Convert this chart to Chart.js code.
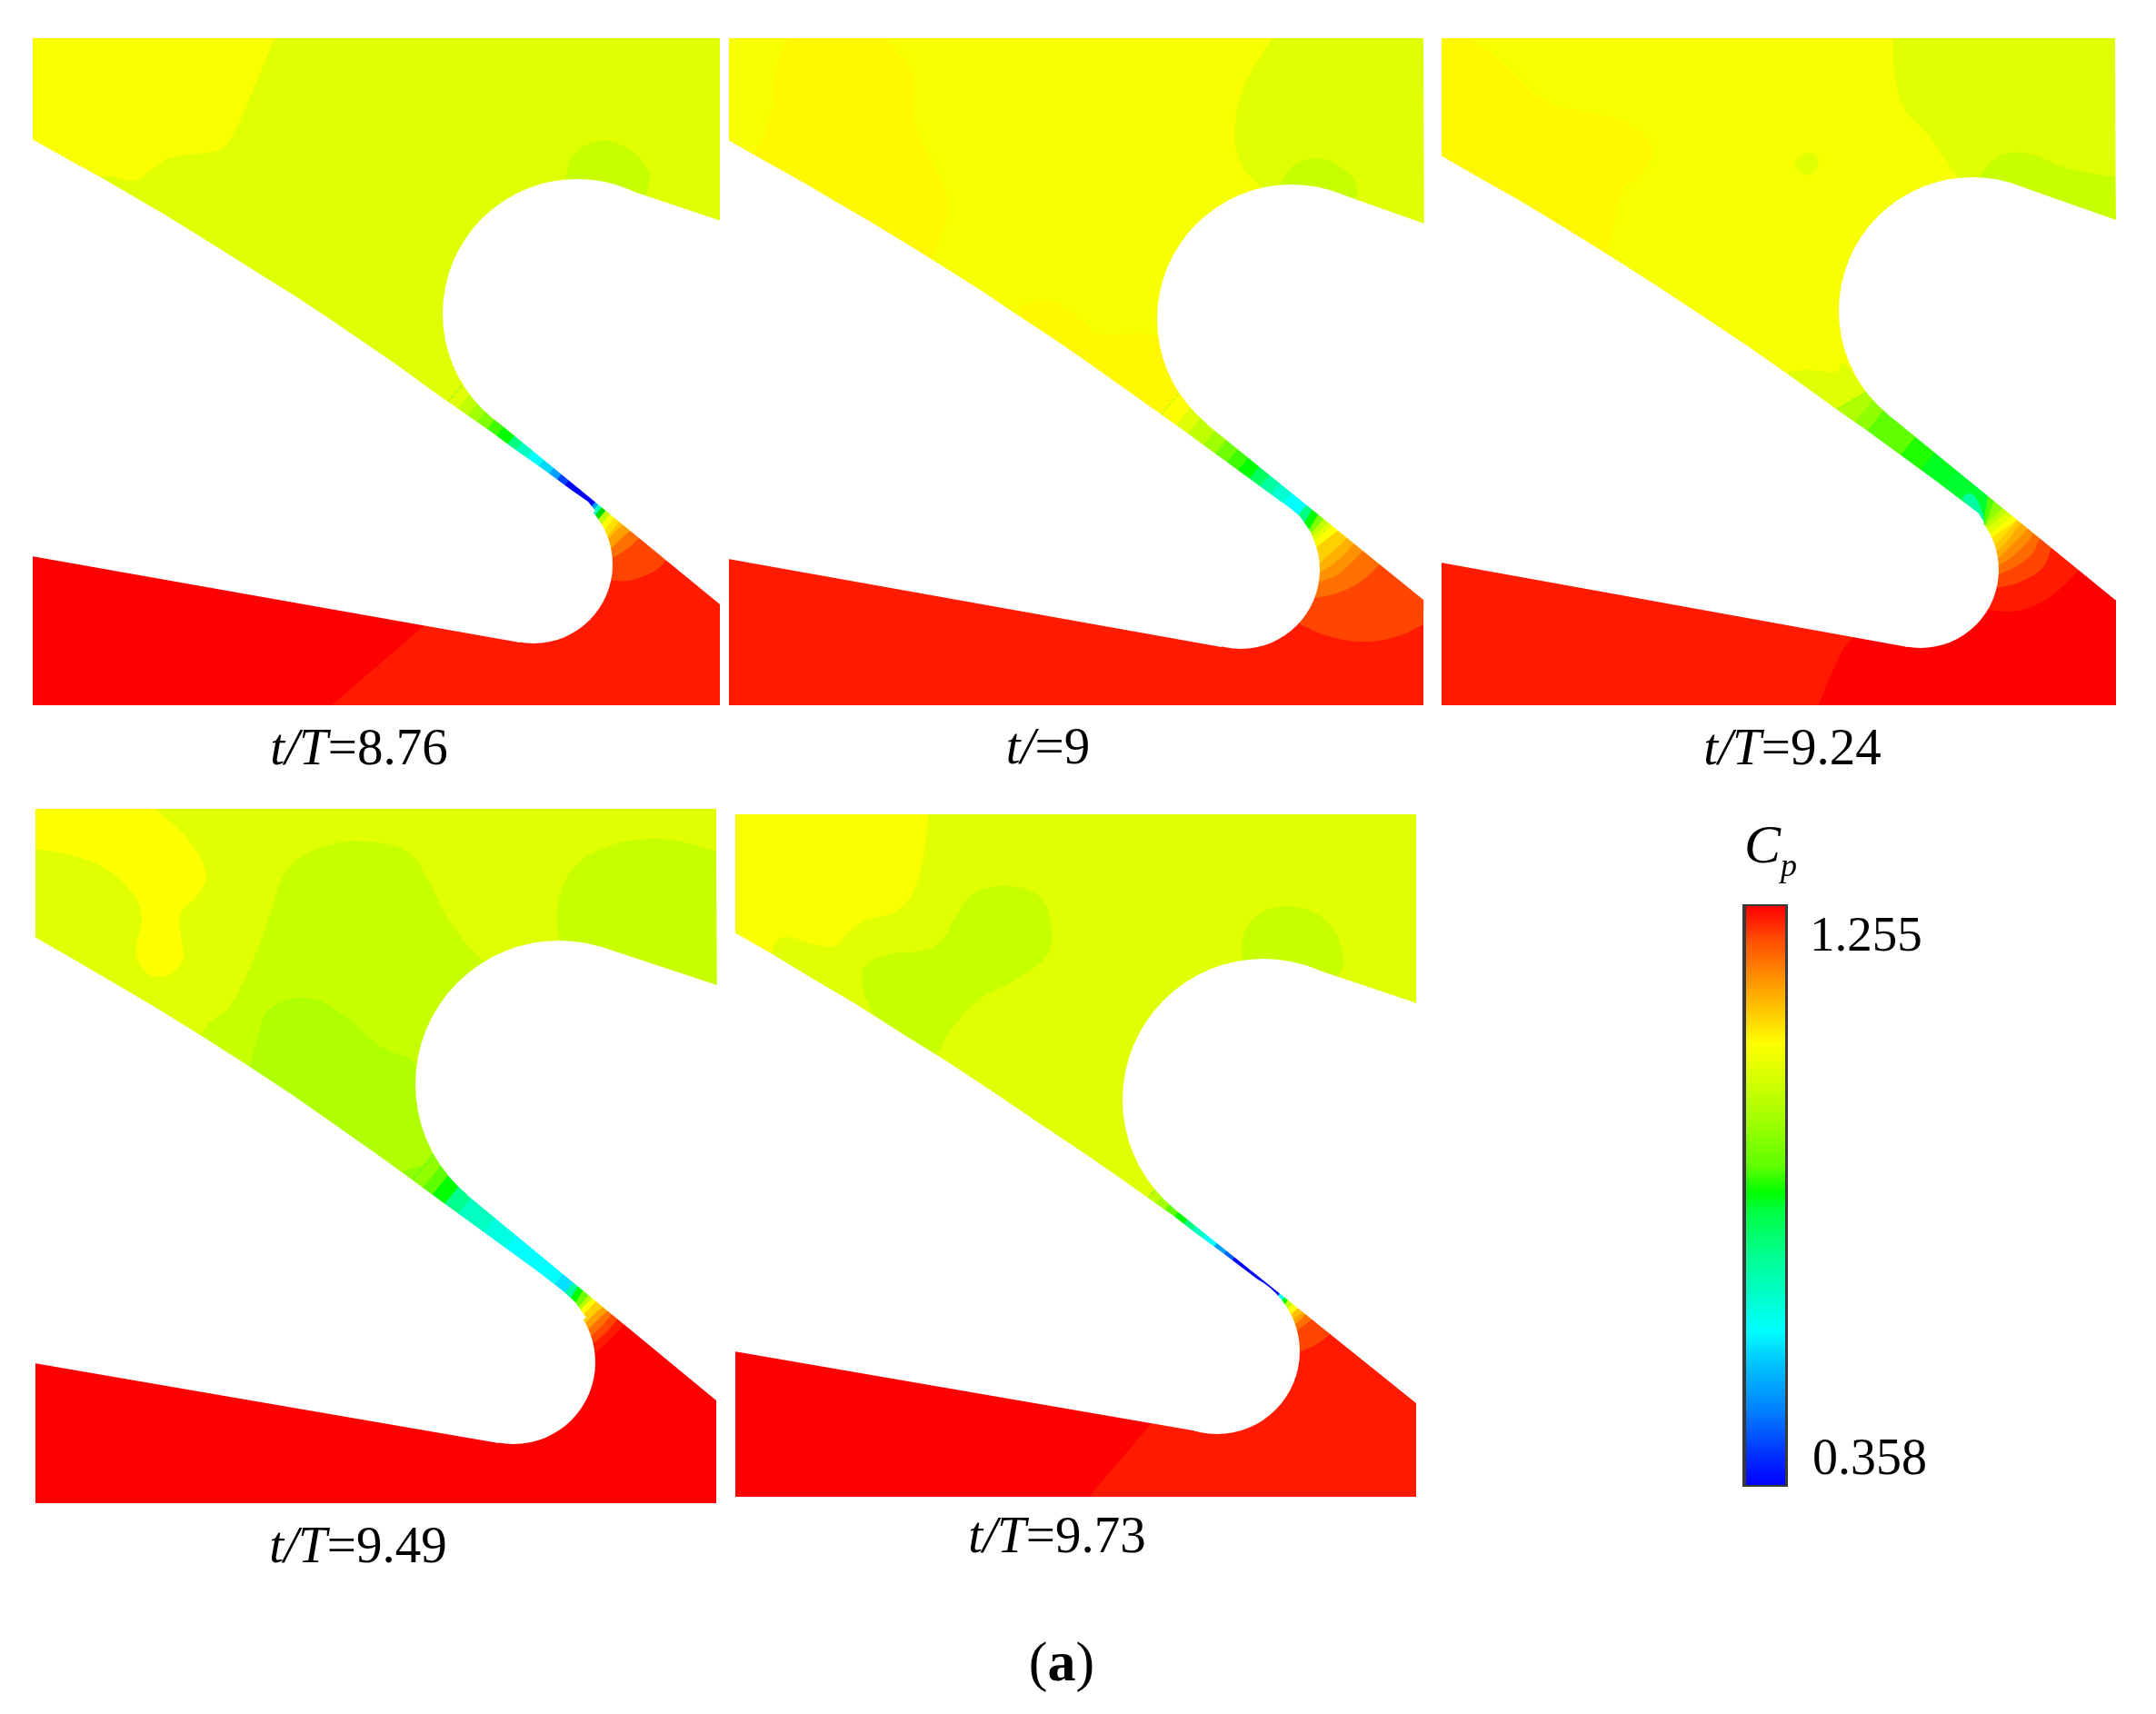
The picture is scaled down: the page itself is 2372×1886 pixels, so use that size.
<!DOCTYPE html>
<html>
<head>
<meta charset="utf-8">
<style>
  html, body { margin: 0; padding: 0; background: #fff; }
  #wrap { position: relative; width: 2372px; height: 1886px; overflow: hidden; }
  canvas { position: absolute; left: 0; top: 0; }
  .t { position: absolute; font-family: "Liberation Serif", serif; line-height: 1; color: #000; white-space: nowrap; }
</style>
<script src="https://cdn.jsdelivr.net/npm/chart.js@4"></script>
</head>
<body>
<div id="wrap">
  <canvas id="cuadro" width="2372" height="1886"></canvas>
</div>
<script>
// texts
const panelLabels = ['t/T=8.76', 't/=9', 't/T=9.24', 't/T=9.49', 't/T=9.73'];
const panelLabelX = [395, 1153, 1972, 394, 1163];
const panelLabelBase = [841, 840, 841, 1719, 1708];
const scaleMax = '1.255';
const scaleMin = '0.358';

// colour bar, fraction from top and colour
const barStops = [0, 0.065, 0.14, 0.238, 0.295, 0.372, 0.449, 0.495, 0.526, 0.603, 0.68, 0.733, 0.795, 0.872, 0.949, 1];
const barColors = ['#ff0000', '#ff5500', '#ffa000', '#ffff00', '#d8ff00', '#a0ff00', '#60ff00', '#00ff00', '#00ff40', '#00ff90', '#00ffd0', '#00ffff', '#00c0ff', '#0080ff', '#0030ff', '#0000ff'];
const barFrame = [[1917, 995], [1967, 995], [1967, 1636], [1917, 1636]];
const barInner = [[1921, 997], [1964, 997], [1964, 1634], [1921, 1634]];

// t/T=8.76
const p1Top = [[36, 42], [792, 42], [792, 450], [600, 512], [36, 300]];
const p1Bottom = [[36, 300], [600, 512], [792, 450], [792, 776], [36, 776]];
const p1TopColor = '#e0ff00', p1BottomColor = '#ff1a00';
const p1Blobs = [
  [[36, 42], [302, 42], [282, 90], [257, 147], [242, 164], [186, 174], [166, 187], [148, 199], [121, 194], [111, 195], [100, 210], [36, 170]],
  [[622, 195], [630, 171], [660, 155], [690, 163], [713, 187], [714, 203], [705, 220], [640, 240]],
  [[466, 689], [466, 689], [365, 776], [36, 776], [36, 600], [466, 660]],
  [[673, 639], [690, 639], [708, 634], [722, 627], [732, 618], [753, 597], [660, 547], [643, 597]],
  [[675, 613], [690, 604], [702, 593], [720, 575], [660, 547], [643, 597]],
  [[673, 603], [683, 593], [692, 585], [710, 570], [660, 547], [643, 597]],
  [[670, 593], [677, 585], [684, 579], [700, 565], [660, 547], [640, 590]]
];
const p1BlobColors = ['#faff00', '#c8ff00', '#ff0000', '#ff4500', '#ff7000', '#ffa000', '#ffc000'];
const p1Cuts = [[674, 583], [670, 577], [666, 572], [662, 567], [658, 563], [655, 559], [652, 556], [623, 532], [615, 525], [607, 518], [595, 510], [583, 500], [572, 490], [562, 484], [550, 475], [540, 467], [530, 458], [520, 451], [510, 442], [500, 434]];
const p1CutColors = ['#ffe000', '#ffff00', '#c0ff00', '#00e000', '#00ffc0', '#00a0ff', '#0000ff', '#0040ff', '#00a0ff', '#00d8ff', '#00ffff', '#00ffc0', '#00ff80', '#00ff00', '#40ff00', '#80ff00', '#a0ff00', '#c0ff00', '#e0ff00'];
const p1BladeA = [[35, 153], [76, 176], [116, 198], [150, 218], [181, 236], [215, 257], [247, 277], [285, 301], [322, 324], [360, 349], [398, 375], [436, 401], [473, 428], [500, 447], [523, 463], [543, 477], [563, 492], [600, 518], [627, 538], [647, 552], [655, 562], [587, 621], [572, 707], [35, 612]];
const p1NoseA = [587, 621], p1NoseARadius = 87;
const p1BladeB = [[683, 206], [793, 243], [793, 665], [792, 665], [541, 459], [635, 345]];
const p1NoseB = [635, 345], p1NoseBRadius = 148;

// t/=9
const p2Top = [[802, 42], [1566, 42], [1566, 450], [1367, 510], [802, 300]];
const p2Bottom = [[802, 300], [1367, 510], [1566, 450], [1566, 776], [802, 776]];
const p2TopColor = '#f8ff00', p2BottomColor = '#ff1a00';
const p2Blobs = [
  [[866, 42], [853, 84], [850, 117], [840, 152], [830, 174], [900, 260], [1020, 310], [1027, 279], [1042, 236], [1037, 203], [1007, 138], [1004, 84], [976, 42]],
  [[1122, 336], [1158, 332], [1193, 355], [1208, 367], [1271, 370], [1290, 400], [1330, 470], [1250, 470], [1117, 360]],
  [[1400, 42], [1369, 95], [1359, 138], [1364, 176], [1387, 206], [1450, 260], [1567, 260], [1566, 42]],
  [[1409, 203], [1420, 184], [1450, 174], [1480, 187], [1493, 206], [1490, 220], [1440, 280]],
  [[1430, 687], [1465, 701], [1505, 706], [1541, 699], [1566, 687], [1567, 600], [1450, 540], [1400, 620]],
  [[1448, 658], [1473, 652], [1497, 640], [1517, 622], [1540, 600], [1450, 540], [1400, 620]],
  [[1453, 640], [1472, 632], [1488, 618], [1498, 608], [1520, 590], [1450, 540], [1400, 620]],
  [[1453, 630], [1470, 618], [1482, 607], [1488, 600], [1510, 580], [1450, 540], [1400, 620]],
  [[1452, 620], [1465, 608], [1477, 597], [1495, 575], [1450, 540], [1400, 620]]
];
const p2BlobColors = ['#fff800', '#fff800', '#e0ff00', '#c8ff00', '#ff4500', '#ff7000', '#ff9000', '#ffb000', '#ffd000'];
const p2Cuts = [[1460, 593, 24, -18], [1456, 587, 22, -20], [1453, 582, 22, -20], [1450, 578, 20, -22], [1446, 573, 15, -25], [1440, 567, 15, -26], [1432, 562], [1417, 547], [1403, 538], [1392, 528], [1380, 520], [1368, 510], [1357, 500], [1343, 492], [1330, 482], [1313, 470], [1300, 460], [1285, 448]];
const p2CutColors = ['#ffff00', '#e0ff00', '#c0ff00', '#80ff00', '#00ff00', '#00ff80', '#00ffff', '#00ffd0', '#00ffa0', '#00ff60', '#00ff00', '#40ff00', '#70ff00', '#a0ff00', '#c0ff00', '#e0ff00', '#ffff00'];
const p2BladeA = [[801, 154], [845, 179], [886, 202], [925, 225], [961, 246], [1002, 271], [1042, 296], [1080, 320], [1117, 345], [1155, 370], [1193, 396], [1231, 423], [1269, 450], [1300, 472], [1330, 494], [1367, 521], [1397, 543], [1420, 560], [1430, 568], [1443, 587], [1365, 627], [1344, 712], [801, 615]];
const p2NoseA = [1365, 627], p2NoseARadius = 87;
const p2BladeB = [[1465, 210], [1567, 246], [1567, 660], [1566, 660], [1328, 467], [1421, 351]];
const p2NoseB = [1421, 351], p2NoseBRadius = 148;

// t/T=9.24
const p3Top = [[1586, 42], [2327, 42], [2327, 450], [2130, 518], [1586, 300]];
const p3Bottom = [[1586, 300], [2130, 518], [2327, 450], [2327, 776], [1586, 776]];
const p3TopColor = '#f8ff00', p3BottomColor = '#ff1a00';
const p3Blobs = [
  [[1586, 42], [1615, 42], [1646, 63], [1676, 90], [1701, 111], [1741, 123], [1792, 136], [1818, 163], [1809, 187], [1782, 214], [1776, 247], [1769, 271], [1770, 300], [1586, 200]],
  [[1973, 182], [1983, 170], [1998, 171], [1999, 185], [1986, 194]],
  [[2083, 42], [2084, 79], [2094, 117], [2124, 152], [2154, 195], [2200, 260], [2328, 260], [2327, 42]],
  [[2177, 195], [2195, 174], [2225, 168], [2275, 185], [2327, 195], [2328, 260], [2200, 260]],
  [[1968, 409], [1988, 407], [2021, 409], [2026, 399], [2045, 420], [2075, 470], [2000, 470], [1968, 425]],
  [[2001, 776], [2018, 735], [2039, 702], [2120, 660], [2195, 672], [2220, 672], [2247, 662], [2270, 645], [2287, 628], [2300, 620], [2328, 620], [2328, 776]],
  [[2198, 647], [2223, 640], [2247, 625], [2257, 603], [2270, 570], [2190, 555], [2160, 620]],
  [[2200, 632], [2220, 622], [2237, 608], [2243, 595], [2260, 570], [2190, 555], [2160, 620]],
  [[2200, 622], [2217, 610], [2230, 597], [2237, 588], [2255, 570], [2190, 555], [2160, 620]],
  [[2200, 613], [2213, 600], [2225, 588], [2230, 583], [2250, 565], [2190, 555], [2160, 620]],
  [[2199, 605], [2210, 593], [2220, 580], [2240, 560], [2190, 555], [2160, 620]],
  [[2197, 598], [2207, 587], [2217, 575], [2235, 555], [2190, 555], [2160, 620]]
];
const p3BlobColors = ['#fff800', '#e0ff00', '#e0ff00', '#c8ff00', '#e0ff00', '#ff0000', '#ff4500', '#ff6a00', '#ff8c00', '#ffaa00', '#ffc800', '#ffe000'];
const p3Cuts = [[2205, 582, 26, -18], [2202, 577, 24, -20], [2198, 572, 24, -20], [2195, 567, 22, -22], [2190, 562, 10, -28], [2184, 563, 5, -28], [2147, 525], [2120, 508], [2098, 492], [2063, 463], [2048, 455], [2035, 442, 20, -12]];
const p3CutColors = ['#ffff00', '#e0ff00', '#c0ff00', '#90ff00', '#50ff00', '#00ff30', '#00ff20', '#20ff00', '#60ff00', '#90ff00', '#b0ff00'];
const p3Patch = [[2158, 548], [2167, 543], [2175, 550], [2183, 575], [2173, 567]];
const p3PatchColor = '#00ffa0';
const p3BladeA = [[1585, 171], [1630, 197], [1671, 220], [1722, 251], [1772, 282], [1822, 314], [1872, 347], [1923, 381], [1973, 416], [2020, 450], [2053, 473], [2090, 500], [2127, 527], [2160, 552], [2177, 565], [2183, 575], [2113, 627], [2099, 712], [1585, 619]];
const p3NoseA = [2113, 627], p3NoseARadius = 86;
const p3BladeB = [[2217, 203], [2328, 242], [2328, 660], [2327, 660], [2077, 456], [2170, 342]];
const p3NoseB = [2170, 342], p3NoseBRadius = 147;

// t/T=9.49
const p4Top = [[39, 890], [788, 890], [788, 1320], [560, 1363], [39, 1170]];
const p4Bottom = [[39, 1170], [560, 1363], [788, 1320], [788, 1654], [39, 1654]];
const p4TopColor = '#e0ff00', p4BottomColor = '#ff0000';
const p4Blobs = [
  [[39, 890], [171, 890], [206, 923], [227, 961], [219, 983], [199, 1005], [199, 1032], [202, 1053], [191, 1070], [171, 1075], [154, 1062], [150, 1043], [156, 1010], [146, 983], [116, 956], [75, 940], [39, 934]],
  [[219, 1140], [232, 1124], [252, 1108], [282, 1048], [297, 1005], [317, 956], [358, 931], [403, 926], [448, 937], [473, 972], [494, 1013], [531, 1056], [600, 1100], [500, 1340], [222, 1160]],
  [[614, 1032], [614, 994], [630, 956], [670, 931], [715, 923], [750, 926], [788, 937], [789, 1100], [640, 1060]],
  [[274, 1175], [284, 1140], [297, 1110], [337, 1098], [373, 1113], [418, 1151], [458, 1174], [480, 1300], [420, 1290], [300, 1225]],
  [[443, 1289], [461, 1284], [484, 1289], [494, 1297], [510, 1330], [480, 1330]],
  [[657, 1487], [673, 1472], [685, 1458], [700, 1420], [640, 1415], [610, 1490]],
  [[655, 1477], [668, 1465], [678, 1453], [700, 1420], [640, 1415], [610, 1490]],
  [[653, 1468], [663, 1458], [673, 1447], [700, 1420], [640, 1415], [610, 1490]],
  [[650, 1460], [660, 1450], [668, 1443], [700, 1420], [640, 1415], [610, 1490]],
  [[647, 1453], [657, 1443], [664, 1438], [700, 1420], [640, 1415], [610, 1490]]
];
const p4BlobColors = ['#ffff00', '#c8ff00', '#c8ff00', '#b0ff00', '#90ff00', '#ff1a00', '#ff4500', '#ff7000', '#ffa000', '#ffd000'];
const p4Cuts = [[648, 1440, 22, -22], [645, 1435, 22, -22], [642, 1432, 20, -24], [637, 1427, 15, -25], [630, 1425, 15, -25], [625, 1418], [613, 1410], [560, 1368], [537, 1350], [510, 1328], [497, 1315], [485, 1303], [475, 1295], [465, 1285]];
const p4CutColors = ['#ffff00', '#c0ff00', '#70ff00', '#00ff00', '#00ffa0', '#00e0ff', '#00ffff', '#00ffe0', '#00ffc0', '#00ff90', '#00ff00', '#60ff00', '#90ff00'];
const p4BladeA = [[38, 1031], [80, 1055], [121, 1079], [172, 1109], [222, 1140], [272, 1172], [322, 1205], [372, 1240], [423, 1276], [460, 1303], [483, 1320], [523, 1349], [560, 1376], [593, 1400], [620, 1421], [633, 1433], [645, 1450], [565, 1499], [549, 1588], [38, 1500]];
const p4NoseA = [565, 1499], p4NoseARadius = 90;
const p4BladeB = [[662, 1042], [789, 1084], [789, 1541], [788, 1541], [514, 1315], [615, 1193]];
const p4NoseB = [615, 1193], p4NoseBRadius = 158;

// t/T=9.73
const p5Top = [[809, 896], [1558, 896], [1558, 1300], [1340, 1372], [809, 1170]];
const p5Bottom = [[809, 1170], [1340, 1372], [1558, 1300], [1558, 1647], [809, 1647]];
const p5TopColor = '#e0ff00', p5BottomColor = '#ff1a00';
const p5Blobs = [
  [[809, 896], [1021, 896], [1019, 923], [1012, 961], [999, 991], [981, 1005], [951, 1013], [931, 1029], [918, 1041], [891, 1038], [866, 1031], [853, 1037], [848, 1048], [809, 1030]],
  [[959, 1113], [949, 1086], [951, 1064], [976, 1051], [1017, 1045], [1037, 1034], [1052, 1007], [1072, 983], [1107, 975], [1143, 986], [1157, 1021], [1150, 1053], [1112, 1081], [1077, 1100], [1047, 1132], [1029, 1159], [1000, 1170]],
  [[1367, 1056], [1367, 1032], [1384, 1007], [1417, 997], [1455, 1010], [1476, 1043], [1473, 1072], [1400, 1120]],
  [[1266, 1567], [1266, 1567], [1198, 1647], [809, 1647], [809, 1470], [1266, 1540]],
  [[1431, 1487], [1447, 1480], [1463, 1468], [1500, 1430], [1410, 1420], [1400, 1480]],
  [[1427, 1464], [1435, 1458], [1443, 1452], [1470, 1430], [1410, 1420], [1400, 1480]],
  [[1425, 1457], [1433, 1450], [1437, 1445], [1465, 1425], [1410, 1420], [1400, 1480]]
];
const p5BlobColors = ['#faff00', '#c8ff00', '#c8ff00', '#ff0000', '#ff4500', '#ff7000', '#ffa000'];
const p5Cuts = [[1429, 1447, 14, -12], [1425, 1442, 14, -12], [1420, 1437, 14, -14], [1415, 1433, 12, -18], [1412, 1429, 12, -18], [1407, 1425, 12, -18], [1407, 1423], [1357, 1385], [1348, 1378], [1338, 1369], [1327, 1358], [1315, 1350], [1305, 1343], [1295, 1335], [1285, 1327], [1277, 1318], [1270, 1310]];
const p5CutColors = ['#ffc000', '#ffff00', '#c0ff00', '#00ff00', '#00ffff', '#0040ff', '#0000ff', '#0060ff', '#00a0ff', '#00ffff', '#00ffc0', '#00ff80', '#00ff00', '#60ff00', '#a0ff00', '#c0ff00'];
const p5BladeA = [[808, 1026], [850, 1050], [891, 1075], [942, 1105], [992, 1137], [1042, 1168], [1092, 1201], [1142, 1235], [1193, 1269], [1232, 1296], [1270, 1323], [1290, 1337], [1313, 1355], [1343, 1377], [1380, 1405], [1403, 1423], [1413, 1437], [1422, 1453], [1339, 1487], [1324, 1576], [808, 1487]];
const p5NoseA = [1339, 1487], p5NoseARadius = 91;
const p5BladeB = [[1437, 1063], [1559, 1104], [1559, 1544], [1558, 1544], [1293, 1331], [1390, 1210]];
const p5NoseB = [1390, 1210], p5NoseBRadius = 155;

const layers = [];

function addShape(points, color, tension) {
  layers.push({
    data: points.map(p => ({ x: p[0], y: p[1] })),
    showLine: true,
    fill: 'shape',
    backgroundColor: color,
    borderWidth: 0,
    pointRadius: 0,
    tension: tension || 0
  });
}

function addDisc(center, radius, color) {
  layers.push({
    data: [{ x: center[0], y: center[1] }],
    showLine: false,
    pointRadius: radius,
    pointBackgroundColor: color,
    pointBorderWidth: 0
  });
}

// each band runs from its cut back to the channel entrance, the next one paints over it
function addCuts(cuts, colors) {
  const last = cuts[cuts.length - 1];
  const lastDx = last[2] !== undefined ? last[2] : 22;
  const lastDy = last[3] !== undefined ? last[3] : -27;
  colors.forEach((color, i) => {
    const c = cuts[i];
    const dx = c[2] !== undefined ? c[2] : 22;
    const dy = c[3] !== undefined ? c[3] : -27;
    addShape([
      [c[0] - dx, c[1] - dy], [c[0] + dx, c[1] + dy],
      [last[0] + lastDx, last[1] + lastDy], [last[0] - lastDx, last[1] - lastDy]
    ], color);
  });
}

// a doubled vertex stays sharp under tension, so contours keep straight sides on the panel edge
function addBlob(points, color, top, bottom) {
  const x0 = top[0][0], x1 = top[1][0], y0 = top[0][1], y1 = bottom[3][1];
  const pts = [];
  points.forEach(p => {
    pts.push(p);
    if (p[0] <= x0 || p[0] >= x1 || p[1] <= y0 || p[1] >= y1) pts.push(p);
  });
  addShape(pts, color, 0.4);
}

function addPanel(top, topColor, bottom, bottomColor, blobs, blobColors, cuts, cutColors, bladeA, noseA, noseARadius, bladeB, noseB, noseBRadius, patch, patchColor) {
  addShape(top, topColor);
  addShape(bottom, bottomColor);
  blobs.forEach((b, i) => addBlob(b, blobColors[i], top, bottom));
  addCuts(cuts, cutColors);
  if (patch) addShape(patch, patchColor, 0.4);
  addShape(bladeA, '#ffffff');
  addDisc(noseA, noseARadius, '#ffffff');
  addShape(bladeB, '#ffffff');
  addDisc(noseB, noseBRadius, '#ffffff');
}

addPanel(p1Top, p1TopColor, p1Bottom, p1BottomColor, p1Blobs, p1BlobColors, p1Cuts, p1CutColors, p1BladeA, p1NoseA, p1NoseARadius, p1BladeB, p1NoseB, p1NoseBRadius);
addPanel(p2Top, p2TopColor, p2Bottom, p2BottomColor, p2Blobs, p2BlobColors, p2Cuts, p2CutColors, p2BladeA, p2NoseA, p2NoseARadius, p2BladeB, p2NoseB, p2NoseBRadius);
addPanel(p3Top, p3TopColor, p3Bottom, p3BottomColor, p3Blobs, p3BlobColors, p3Cuts, p3CutColors, p3BladeA, p3NoseA, p3NoseARadius, p3BladeB, p3NoseB, p3NoseBRadius, p3Patch, p3PatchColor);
addPanel(p4Top, p4TopColor, p4Bottom, p4BottomColor, p4Blobs, p4BlobColors, p4Cuts, p4CutColors, p4BladeA, p4NoseA, p4NoseARadius, p4BladeB, p4NoseB, p4NoseBRadius);
addPanel(p5Top, p5TopColor, p5Bottom, p5BottomColor, p5Blobs, p5BlobColors, p5Cuts, p5CutColors, p5BladeA, p5NoseA, p5NoseARadius, p5BladeB, p5NoseB, p5NoseBRadius);

const ctxCuadro = document.getElementById('cuadro').getContext('2d');
const gradBar = ctxCuadro.createLinearGradient(0, barInner[0][1], 0, barInner[2][1]);
barStops.forEach((s, i) => gradBar.addColorStop(s, barColors[i]));
addShape(barFrame, '#3a3a3a');
addShape(barInner, gradBar);

// chart.js paints the first dataset last
const cuadro = new Chart(ctxCuadro, {
  type: 'scatter',
  data: { datasets: layers.slice().reverse() },
  options: {
    responsive: false,
    animation: false,
    events: [],
    layout: { padding: 0, autoPadding: false },
    plugins: { legend: { display: false }, tooltip: { enabled: false } },
    scales: {
      x: { type: 'linear', min: 0, max: 2372, display: false },
      y: { type: 'linear', min: 0, max: 1886, reverse: true, display: false }
    }
  }
});

// text
const wrap = document.getElementById('wrap');
function addText(html, left, baseline, size, centered) {
  const el = document.createElement('div');
  el.className = 't';
  el.innerHTML = html;
  el.style.left = left + 'px';
  el.style.top = (baseline - size * 0.8375) + 'px';
  el.style.fontSize = size + 'px';
  if (centered) el.style.transform = 'translateX(-50%)';
  wrap.appendChild(el);
}
panelLabels.forEach((label, i) => {
  const parts = label.split('=');
  addText('<i>' + parts[0] + '</i>=' + parts[1], panelLabelX[i], panelLabelBase[i], 57, true);
});
addText(scaleMax, 1991, 1046, 55, false);
addText(scaleMin, 1994, 1622, 56, false);
addText('<i>C<sub style="font-size:36px;vertical-align:-15px;line-height:0">p</sub></i>', 1919, 949, 60, false);
addText('(<b>a</b>)', 1168, 1849, 62, true);
</script>
</body>
</html>
